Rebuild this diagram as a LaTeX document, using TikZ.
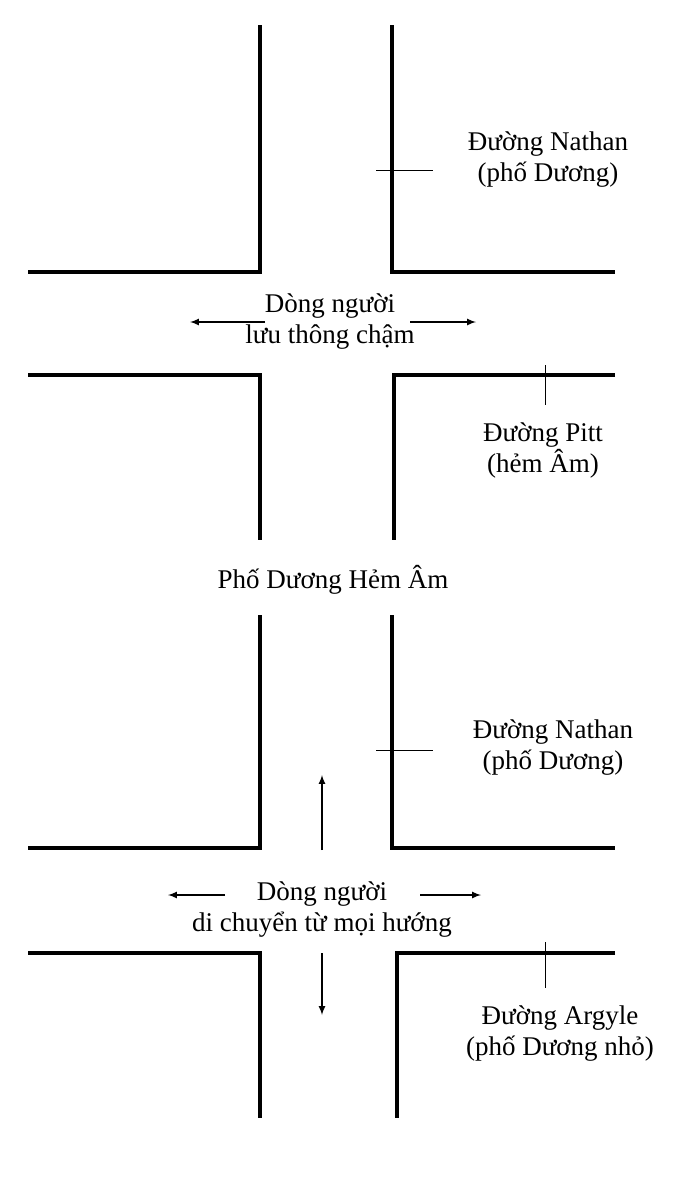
\documentclass[tikz,border=0pt]{standalone}
\usepackage{fontspec}
\setmainfont{Liberation Serif}
\begin{document}
\begin{tikzpicture}[x=1pt,y=-1pt]
    \tikzstyle{every node}+=[inner sep=0pt, font=\fontsize{27}{31}\selectfont, align=center]
    \tikzstyle{road}=[black, line width=3.5pt]
    \tikzstyle{tick}=[black, line width=0.8pt]
    \tikzstyle{flow}=[black, line width=2pt, -latex]
    \useasboundingbox (0,0) rectangle (688,1200);
    % top crossing
    \draw [road] (260,25) -- (260,272) -- (28,272);
    \draw [road] (392,25) -- (392,272) -- (615,272);
    \draw [road] (28,375) -- (260,375) -- (260,540);
    \draw [road] (615,375) -- (394,375) -- (394,540);
    \draw [tick] (376,170) -- (433,170);
    \draw [tick] (545,365) -- (545,405);
    \draw (548,160) node (nathanA) {Đường Nathan\\(phố Dương)};
    \draw (330,322) node (slow) {Dòng người\\lưu thông chậm};
    \draw (543,450) node (pitt) {Đường Pitt\\(hẻm Âm)};
    \draw (333,580) node (title) {Phố Dương Hẻm Âm};
    \coordinate (slowL) at (190,322);
    \coordinate (slowR) at (476,322);
    \draw [flow] (slow.west) ++(15,0) coordinate (s1) (265,322) -- (slowL);
    \draw [flow] (410,322) -- (slowR);
    % bottom crossing
    \draw [road] (260,615) -- (260,848) -- (28,848);
    \draw [road] (392,615) -- (392,848) -- (615,848);
    \draw [road] (28,953) -- (260,953) -- (260,1118);
    \draw [road] (615,953) -- (397,953) -- (397,1118);
    \draw [tick] (376,750) -- (433,750);
    \draw [tick] (545,942) -- (545,988);
    \draw (553,748) node (nathanB) {Đường Nathan\\(phố Dương)};
    \draw (322,910) node (all) {Dòng người\\di chuyển từ mọi hướng};
    \draw (560,1034) node (argyle) {Đường Argyle\\(phố Dương nhỏ)};
    \coordinate (allU) at (322,775);
    \coordinate (allD) at (322,1015);
    \coordinate (allL) at (168,895);
    \coordinate (allR) at (481,895);
    \draw [flow] (322,850) -- (allU);
    \draw [flow] (322,953) -- (allD);
    \draw [flow] (225,895) -- (allL);
    \draw [flow] (420,895) -- (allR);
\end{tikzpicture}
\end{document}
